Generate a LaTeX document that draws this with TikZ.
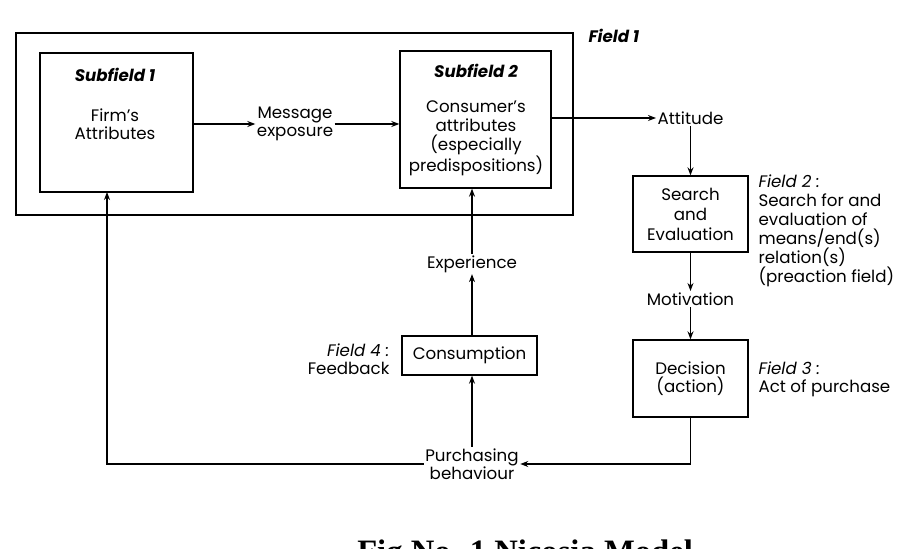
\documentclass[tikz,border=0pt]{standalone}
\usepackage{fontspec}
\setmainfont{Poppins}
\newfontfamily\capfont{Liberation Serif}
\usetikzlibrary{arrows.meta}
\begin{document}
\begin{tikzpicture}[x=0.75pt,y=-0.75pt,
  font=\fontsize{12.5}{13.5}\selectfont,
  box/.style={draw,line width=1pt,inner sep=0pt},
  txt/.style={align=center,inner sep=1pt},
  ttl/.style={font=\fontsize{12.5}{13.5}\selectfont\bfseries\itshape,inner sep=1pt},
  fld/.style={font=\fontsize{12.5}{13.5}\selectfont,inner sep=1pt},
  arr/.style={line width=1pt,-{Stealth[length=6pt,width=4.5pt]}},
  ln/.style={line width=1pt}]
\useasboundingbox (0,0) rectangle (897,549);
% boxes
\node[box,line width=1.3pt,minimum width=417.75pt,minimum height=136.5pt] (field1) at (294.5,124) {};
\node[box,minimum width=114.75pt,minimum height=104.25pt] (sub1) at (116.5,122.5) {};
\node[box,minimum width=113.25pt,minimum height=102.75pt] (sub2) at (475.5,119.5) {};
\node[box,txt,minimum width=86.25pt,minimum height=57pt,font=\fontsize{12.5}{15}\selectfont] (search) at (690.5,214) {Search\\and\\Evaluation};
\node[box,txt,minimum width=86.25pt,minimum height=57.75pt] (dec) at (690.5,378.5) {Decision\\(action)};
\node[box,txt,minimum width=101.25pt,minimum height=29.25pt] (cons) at (469.5,355.5) {Consumption};
% texts
\node[ttl] (s1title) at (115,75) {Subfield 1};
\node[txt] (s1text) at (115,124) {Firm's\\Attributes};
\node[ttl] (s2title) at (476,71) {Subfield 2};
\node[txt,font=\fontsize{12.5}{14.25}\selectfont] (s2text) at (476,138.5) {Consumer's\\attributes\\(especially\\predispositions)};
\node[txt] (msg) at (295,124) {Message\\exposure};
\node[txt] (att) at (690.5,118) {Attitude};
\node[txt] (mot) at (690.5,299) {Motivation};
\node[txt] (exp) at (472,264) {Experience};
\node[txt] (purch) at (472,464) {Purchasing\\behaviour};
\node[ttl,anchor=west] (f1) at (587,36) {Field 1};
\node[fld,align=left,anchor=north west,font=\fontsize{12.5}{14.25}\selectfont] (f2) at (757,173) {\textit{Field 2 :}\\Search for and\\evaluation of\\means/end(s)\\relation(s)\\(preaction field)};
\node[fld,align=left,anchor=west] (f3) at (757,379) {\textit{Field 3 :}\\Act of purchase};
\node[fld,align=right,anchor=east] (f4) at (391,359) {\textit{Field 4 :}\\Feedback};
\node[anchor=base west,inner sep=0pt,font=\capfont\bfseries\fontsize{24.5}{28}\selectfont] (cap) at (357,562) {Fig No. 1 Nicosia Model};
% connectors
\coordinate (s1in) at (107,192);
\draw[arr] (msg.west -| sub1.east) -- (msg.west);
\draw[arr] (msg.east) -- (msg.east -| sub2.west);
\draw[arr] (att.west -| sub2.east) -- (att.west);
\draw[arr] (att.south) -- (search.north);
\draw[arr] (search.south) -- (mot.north);
\draw[arr] (mot.south) -- (dec.north);
\draw[arr] (dec.south) |- (purch.east);
\draw[arr] (purch.west) -| (s1in);
\draw[arr] (purch.north) -- (purch.north |- cons.south);
\draw[arr] (cons.north -| exp.south) -- (exp.south);
\draw[arr] (exp.north) -- (exp.north |- sub2.south);
\end{tikzpicture}
\end{document}
